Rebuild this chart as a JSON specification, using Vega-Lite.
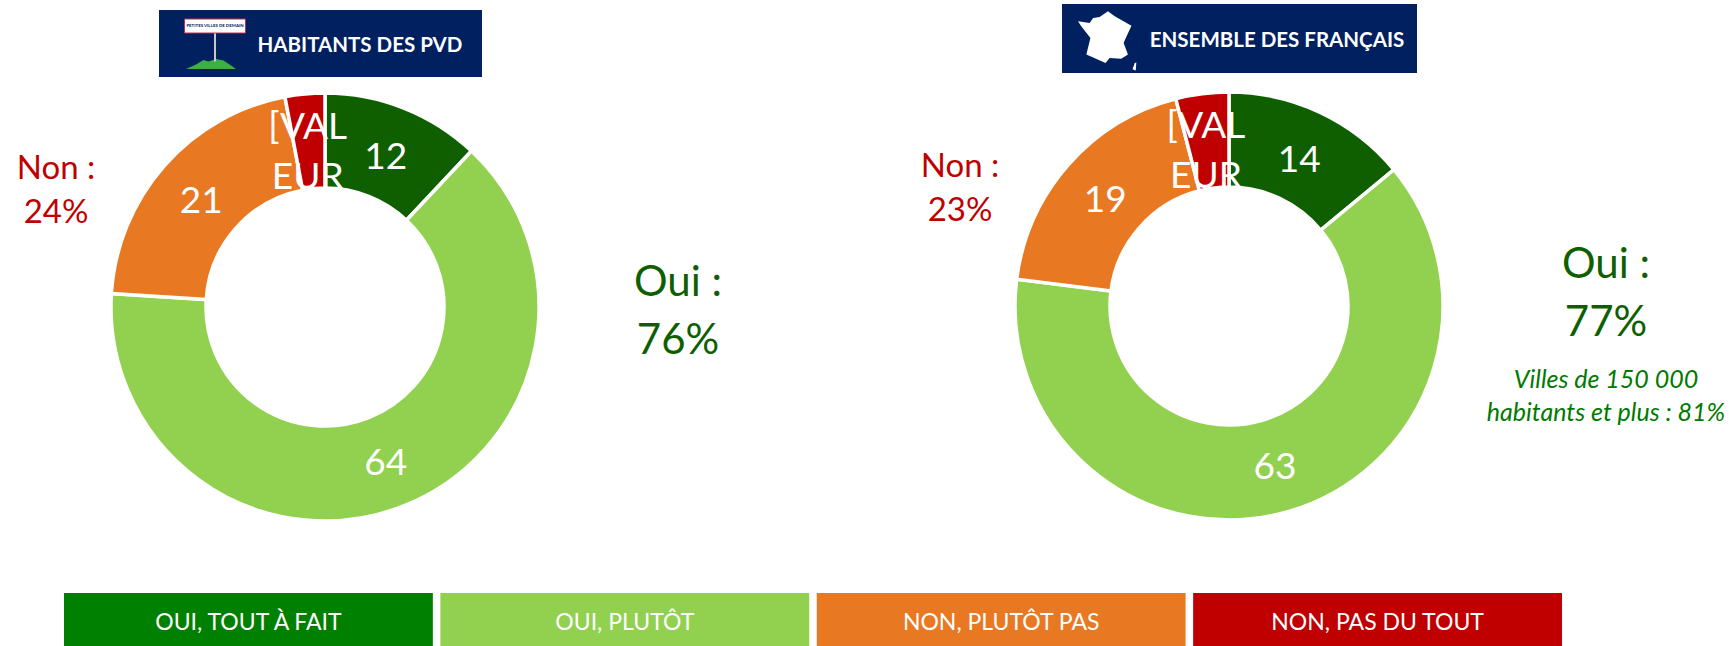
{
"$schema":"https://vega.github.io/schema/vega-lite/v6.json",
"width":1731,"height":646,"padding":0,
"autosize":{"type":"fit","contains":"padding"},
"background":"white",
"config":{"view":{"stroke":null},"font":"Lato","axis":{"disable":true},"legend":{"disable":true}},
"datasets":{
"reponses":[
{"groupe":"PVD","ordre":1,"modalite":"Oui, tout à fait","valeur":12,"etiquette":"12"},
{"groupe":"PVD","ordre":2,"modalite":"Oui, plutôt","valeur":64,"etiquette":"64"},
{"groupe":"PVD","ordre":3,"modalite":"Non, plutôt pas","valeur":21,"etiquette":"21"},
{"groupe":"PVD","ordre":4,"modalite":"Non, pas du tout","valeur":3,"etiquette":"[VAL\nEUR"},
{"groupe":"FR","ordre":1,"modalite":"Oui, tout à fait","valeur":14,"etiquette":"14"},
{"groupe":"FR","ordre":2,"modalite":"Oui, plutôt","valeur":63,"etiquette":"63"},
{"groupe":"FR","ordre":3,"modalite":"Non, plutôt pas","valeur":19,"etiquette":"19"},
{"groupe":"FR","ordre":4,"modalite":"Non, pas du tout","valeur":4,"etiquette":"[VAL\nEUR"}
],
"entetes":[
{"groupe":"PVD","titre":"HABITANTS DES PVD","oui":"Oui :\n76%","non":"Non :\n24%"},
{"groupe":"FR","titre":"ENSEMBLE DES FRANÇAIS","oui":"Oui :\n77%","non":"Non :\n23%","note":"Villes de 150 000\nhabitants et plus : 81%"}
],
"legende":[
{"modalite":"Oui, tout à fait","libelle":"OUI, TOUT À FAIT","bandeau":"légende"},
{"modalite":"Oui, plutôt","libelle":"OUI, PLUTÔT","bandeau":"légende"},
{"modalite":"Non, plutôt pas","libelle":"NON, PLUTÔT PAS","bandeau":"légende"},
{"modalite":"Non, pas du tout","libelle":"NON, PAS DU TOUT","bandeau":"légende"}
],
"logo":[{"groupe":"PVD","panneau":"PETITES VILLES DE DEMAIN"},{"groupe":"FR"}]
},
"resolve":{"scale":{"x":"independent","y":"independent","theta":"independent","color":"independent"}},
"layer":[
{"data":{"name":"reponses"},"transform":[{"filter":"datum.groupe==='PVD'"}],
"mark":{"type":"arc","radius":214,"radius2":119,"stroke":"white","strokeWidth":3.5},
"encoding":{
"x":{"field":"groupe","type":"nominal","scale":{"type":"point","domain":["PVD","FR"],"range":[325,1229],"padding":0}},
"y":{"field":"groupe","type":"nominal","scale":{"type":"point","domain":["PVD","FR"],"range":[307,306],"padding":0}},
"theta":{"field":"valeur","type":"quantitative","stack":true,"scale":{"domain":[0,100]}},
"order":{"field":"ordre","type":"quantitative"},
"color":{"field":"modalite","type":"nominal","scale":{"domain":["Oui, tout à fait","Oui, plutôt","Non, plutôt pas","Non, pas du tout"],"range":["#0F5F00","#92D050","#E97822","#C00000"]}}
}},
{"data":{"name":"reponses"},"transform":[{"filter":"datum.groupe==='FR'"}],
"mark":{"type":"arc","radius":214,"radius2":119,"stroke":"white","strokeWidth":3.5},
"encoding":{
"x":{"field":"groupe","type":"nominal","scale":{"type":"point","domain":["PVD","FR"],"range":[325,1229],"padding":0}},
"y":{"field":"groupe","type":"nominal","scale":{"type":"point","domain":["PVD","FR"],"range":[307,306],"padding":0}},
"theta":{"field":"valeur","type":"quantitative","stack":true,"scale":{"domain":[0,100]}},
"order":{"field":"ordre","type":"quantitative"},
"color":{"field":"modalite","type":"nominal","scale":{"domain":["Oui, tout à fait","Oui, plutôt","Non, plutôt pas","Non, pas du tout"],"range":["#0F5F00","#92D050","#E97822","#C00000"]}}
}},
{"data":{"name":"reponses"},"transform":[{"filter":"datum.groupe==='PVD'"}],
"mark":{"type":"text","radius":165,"dy":4,"fontSize":37,"color":"white","align":"center","baseline":"middle"},
"encoding":{
"x":{"field":"groupe","type":"nominal","scale":{"type":"point","domain":["PVD","FR"],"range":[325,1229],"padding":0}},
"y":{"field":"groupe","type":"nominal","scale":{"type":"point","domain":["PVD","FR"],"range":[307,306],"padding":0}},
"theta":{"field":"valeur","type":"quantitative","stack":true,"scale":{"domain":[0,100]}},
"order":{"field":"ordre","type":"quantitative"},
"detail":{"field":"modalite","type":"nominal"},
"text":{"condition":{"test":"datum.ordre<4","field":"etiquette","type":"nominal"},"value":""}
}},
{"data":{"name":"reponses"},"transform":[{"filter":"datum.groupe==='FR'"}],
"mark":{"type":"text","radius":165,"dy":4,"fontSize":37,"color":"white","align":"center","baseline":"middle"},
"encoding":{
"x":{"field":"groupe","type":"nominal","scale":{"type":"point","domain":["PVD","FR"],"range":[325,1229],"padding":0}},
"y":{"field":"groupe","type":"nominal","scale":{"type":"point","domain":["PVD","FR"],"range":[307,306],"padding":0}},
"theta":{"field":"valeur","type":"quantitative","stack":true,"scale":{"domain":[0,100]}},
"order":{"field":"ordre","type":"quantitative"},
"detail":{"field":"modalite","type":"nominal"},
"text":{"condition":{"test":"datum.ordre<4","field":"etiquette","type":"nominal"},"value":""}
}},
{"data":{"name":"reponses"},"transform":[{"filter":"datum.groupe==='PVD'"}],
"mark":{"type":"text","radius":184,"dy":4,"fontSize":37,"color":"white","lineBreak":"\n","lineHeight":50,"align":"center","baseline":"middle"},
"encoding":{
"x":{"field":"groupe","type":"nominal","scale":{"type":"point","domain":["PVD","FR"],"range":[325,1229],"padding":0}},
"y":{"field":"groupe","type":"nominal","scale":{"type":"point","domain":["PVD","FR"],"range":[307,306],"padding":0}},
"theta":{"field":"valeur","type":"quantitative","stack":true,"scale":{"domain":[0,100]}},
"order":{"field":"ordre","type":"quantitative"},
"detail":{"field":"modalite","type":"nominal"},
"text":{"condition":{"test":"datum.ordre===4","field":"etiquette","type":"nominal"},"value":""}
}},
{"data":{"name":"reponses"},"transform":[{"filter":"datum.groupe==='FR'"}],
"mark":{"type":"text","radius":184,"dy":4,"fontSize":37,"color":"white","lineBreak":"\n","lineHeight":50,"align":"center","baseline":"middle"},
"encoding":{
"x":{"field":"groupe","type":"nominal","scale":{"type":"point","domain":["PVD","FR"],"range":[325,1229],"padding":0}},
"y":{"field":"groupe","type":"nominal","scale":{"type":"point","domain":["PVD","FR"],"range":[307,306],"padding":0}},
"theta":{"field":"valeur","type":"quantitative","stack":true,"scale":{"domain":[0,100]}},
"order":{"field":"ordre","type":"quantitative"},
"detail":{"field":"modalite","type":"nominal"},
"text":{"condition":{"test":"datum.ordre===4","field":"etiquette","type":"nominal"},"value":""}
}},
{"data":{"name":"entetes"},"transform":[{"filter":"datum.groupe==='PVD'"}],
"mark":{"type":"rect","width":323,"height":67,"color":"#002060"},
"encoding":{
"x":{"field":"groupe","type":"nominal","scale":{"type":"point","domain":["PVD","FR"],"range":[320.5,1239.5],"padding":0}},
"y":{"field":"groupe","type":"nominal","scale":{"type":"point","domain":["PVD","FR"],"range":[43.5,38.5],"padding":0}}
}},
{"data":{"name":"entetes"},"transform":[{"filter":"datum.groupe==='FR'"}],
"mark":{"type":"rect","width":355,"height":69,"color":"#002060"},
"encoding":{
"x":{"field":"groupe","type":"nominal","scale":{"type":"point","domain":["PVD","FR"],"range":[320.5,1239.5],"padding":0}},
"y":{"field":"groupe","type":"nominal","scale":{"type":"point","domain":["PVD","FR"],"range":[43.5,38.5],"padding":0}}
}},
{"data":{"name":"entetes"},
"mark":{"type":"text","fontSize":20.5,"fontWeight":"bold","color":"white","align":"center","baseline":"middle"},
"encoding":{
"x":{"field":"groupe","type":"nominal","scale":{"type":"point","domain":["PVD","FR"],"range":[360,1277],"padding":0}},
"y":{"field":"groupe","type":"nominal","scale":{"type":"point","domain":["PVD","FR"],"range":[46,41],"padding":0}},
"text":{"field":"titre","type":"nominal"}
}},
{"data":{"name":"logo"},"transform":[{"filter":"datum.groupe==='FR'"}],
"mark":{"type":"point","filled":true,"opacity":1,"color":"white","size":2916,"shape":"M-1,-.58 L-.57,-.52 -.44,-.7 -.2,-.74 .11,-.95 .36,-.77 .98,-.42 .77,.04 .69,.22 .85,.65 .6,.81 .17,.78 .02,.96 -.69,.65 -.54,.04 -.88,-.4 Z M1.1,.96 L1.16,.94 1.14,1.24 1.02,1.19 Z"},
"encoding":{
"x":{"field":"groupe","type":"nominal","scale":{"type":"point","domain":["PVD","FR"],"range":[215,1105],"padding":0}},
"y":{"field":"groupe","type":"nominal","scale":{"type":"point","domain":["PVD","FR"],"range":[47,37],"padding":0}}
}},
{"data":{"name":"logo"},"transform":[{"filter":"datum.groupe==='PVD'"}],
"mark":{"type":"point","filled":true,"opacity":1,"color":"#3CB043","size":2500,"shape":"M-1,.24 L-.6,.06 -.3,-.12 -.1,-.06 .2,-.16 .5,-.1 .8,.1 1,.24 Z"},
"encoding":{
"x":{"field":"groupe","type":"nominal","scale":{"type":"point","domain":["PVD","FR"],"range":[211,1105],"padding":0}},
"y":{"field":"groupe","type":"nominal","scale":{"type":"point","domain":["PVD","FR"],"range":[63,37],"padding":0}}
}},
{"data":{"name":"logo"},"transform":[{"filter":"datum.groupe==='PVD'"}],
"mark":{"type":"rect","width":2,"height":29,"color":"#C8C8C8"},
"encoding":{
"x":{"field":"groupe","type":"nominal","scale":{"type":"point","domain":["PVD","FR"],"range":[215,1105],"padding":0}},
"y":{"field":"groupe","type":"nominal","scale":{"type":"point","domain":["PVD","FR"],"range":[47,37],"padding":0}}
}},
{"data":{"name":"logo"},"transform":[{"filter":"datum.groupe==='PVD'"}],
"mark":{"type":"rect","width":61,"height":14,"fill":"white","stroke":"#C0304F","strokeWidth":1},
"encoding":{
"x":{"field":"groupe","type":"nominal","scale":{"type":"point","domain":["PVD","FR"],"range":[215,1105],"padding":0}},
"y":{"field":"groupe","type":"nominal","scale":{"type":"point","domain":["PVD","FR"],"range":[26,37],"padding":0}}
}},
{"data":{"name":"logo"},"transform":[{"filter":"datum.groupe==='PVD'"}],
"mark":{"type":"text","fontSize":4.4,"fontWeight":"bold","color":"#002060","align":"center","baseline":"middle"},
"encoding":{
"x":{"field":"groupe","type":"nominal","scale":{"type":"point","domain":["PVD","FR"],"range":[215,1105],"padding":0}},
"y":{"field":"groupe","type":"nominal","scale":{"type":"point","domain":["PVD","FR"],"range":[26,37],"padding":0}},
"text":{"field":"panneau","type":"nominal"}
}},
{"data":{"name":"entetes"},
"mark":{"type":"text","fontSize":42,"color":"#0F5F00","lineBreak":"\n","lineHeight":58,"align":"center","baseline":"middle"},
"encoding":{
"x":{"field":"groupe","type":"nominal","scale":{"type":"point","domain":["PVD","FR"],"range":[678,1606],"padding":0}},
"y":{"field":"groupe","type":"nominal","scale":{"type":"point","domain":["PVD","FR"],"range":[283,265],"padding":0}},
"text":{"field":"oui","type":"nominal"}
}},
{"data":{"name":"entetes"},
"mark":{"type":"text","fontSize":33,"color":"#C00000","lineBreak":"\n","lineHeight":44,"align":"center","baseline":"middle"},
"encoding":{
"x":{"field":"groupe","type":"nominal","scale":{"type":"point","domain":["PVD","FR"],"range":[56,960],"padding":0}},
"y":{"field":"groupe","type":"nominal","scale":{"type":"point","domain":["PVD","FR"],"range":[169,167],"padding":0}},
"text":{"field":"non","type":"nominal"}
}},
{"data":{"name":"entetes"},"transform":[{"filter":"datum.groupe==='FR'"}],
"mark":{"type":"text","fontSize":25,"fontStyle":"italic","color":"#007A00","lineBreak":"\n","lineHeight":33,"align":"center","baseline":"middle"},
"encoding":{
"x":{"field":"groupe","type":"nominal","scale":{"type":"point","domain":["PVD","FR"],"range":[679,1606],"padding":0}},
"y":{"field":"groupe","type":"nominal","scale":{"type":"point","domain":["PVD","FR"],"range":[311,380],"padding":0}},
"text":{"field":"note","type":"nominal"}
}},
{"data":{"name":"legende"},
"mark":{"type":"rect"},
"encoding":{
"x":{"field":"modalite","type":"nominal","scale":{"type":"band","domain":["Oui, tout à fait","Oui, plutôt","Non, plutôt pas","Non, pas du tout"],"range":[64,1562],"paddingInner":0.02,"paddingOuter":0}},
"y":{"field":"bandeau","type":"nominal","scale":{"type":"band","domain":["légende"],"range":[593,646],"padding":0}},
"color":{"field":"modalite","type":"nominal","scale":{"domain":["Oui, tout à fait","Oui, plutôt","Non, plutôt pas","Non, pas du tout"],"range":["#008000","#92D050","#E97822","#C00000"]}}
}},
{"data":{"name":"legende"},
"mark":{"type":"text","fontSize":23,"color":"white","align":"center","baseline":"middle"},
"encoding":{
"x":{"field":"modalite","type":"nominal","scale":{"type":"band","domain":["Oui, tout à fait","Oui, plutôt","Non, plutôt pas","Non, pas du tout"],"range":[64,1562],"paddingInner":0.02,"paddingOuter":0}},
"y":{"field":"bandeau","type":"nominal","scale":{"type":"band","domain":["légende"],"range":[599,646],"padding":0}},
"text":{"field":"libelle","type":"nominal"}
}}
]
}
